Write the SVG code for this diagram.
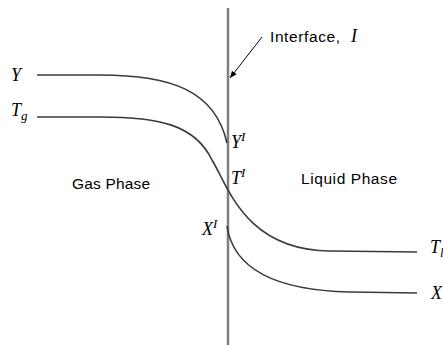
<svg xmlns="http://www.w3.org/2000/svg" width="443" height="345" viewBox="0 0 443 345">
<defs>
<style>
.curve{fill:none;stroke:#3a3a3a;stroke-width:1.6}
.math{font-family:"Liberation Serif",serif;font-style:italic;font-size:18px;fill:#000}
.sup{font-size:13px}
.lab{font-family:"Liberation Sans","DejaVu Sans",sans-serif;font-size:15.5px;fill:#000}
</style>
<marker id="ah" markerWidth="8" markerHeight="8" refX="7" refY="4" orient="auto" markerUnits="userSpaceOnUse">
<path d="M0,1 L7,4 L0,7 Z" fill="#000"/>
</marker>
</defs>
<rect width="443" height="345" fill="#fff"/>
<g id="interface">
<line x1="228" y1="8" x2="228" y2="345" stroke="#7f7f7f" stroke-width="2.5"/>
</g>
<g id="connectors">
<path id="curve-Y" class="curve" d="M37,75 L100,75 C170,75 215,90 227,143"/>
<path id="curve-T" class="curve" d="M37,117 L100,117 C160,117 195,125 212,160 C228,186 245,250 330,251 L417,252"/>
<path id="curve-X" class="curve" d="M227,226 C232,260 260,290 350,292 L417,293"/>
<line id="arrow" x1="262" y1="37" x2="230" y2="78" stroke="#000" stroke-width="1" marker-end="url(#ah)"/>
</g>
<g id="labels">
<text class="math" x="11" y="81">Y</text>
<text class="math" x="11" y="116">T<tspan class="sup" dy="4">g</tspan></text>
<text class="lab" x="270" y="42" textLength="70">Interface,</text>
<text class="math" x="351" y="42">I</text>
<text class="math" x="231" y="148">Y<tspan class="sup" dy="-7">I</tspan></text>
<text class="math" x="231" y="184">T<tspan class="sup" dy="-7">I</tspan></text>
<text class="math" x="202" y="235">X<tspan class="sup" dy="-7">I</tspan></text>
<text class="lab" x="72" y="189" textLength="78">Gas Phase</text>
<text class="lab" x="301" y="184" textLength="96">Liquid Phase</text>
<text class="math" x="430" y="253">T<tspan class="sup" dy="4">l</tspan></text>
<text class="math" x="431" y="299">X</text>
</g>
</svg>
